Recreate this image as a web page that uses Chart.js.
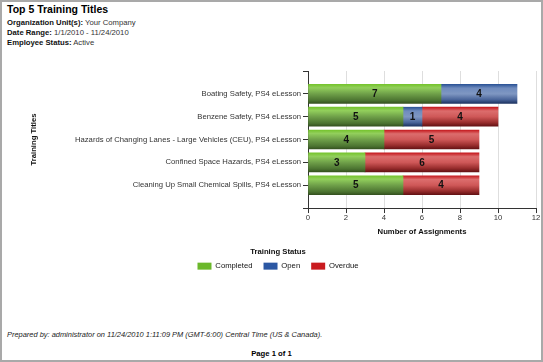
<!DOCTYPE html>
<html>
<head>
<meta charset="utf-8">
<script src="https://cdn.jsdelivr.net/npm/chart.js@4/dist/chart.umd.min.js"></script>
<style>
  html, body { margin: 0; padding: 0; background: #fff; }
  #page {
    position: relative; width: 543px; height: 362px; box-sizing: border-box;
    border: 2px solid #a9a9a9; font-family: Arial, "Liberation Sans", sans-serif; color: #000;
    overflow: hidden;
  }
  .title { position: absolute; left: 5px; top: 1px; font-size: 10.5px; font-weight: bold; }
  .meta { position: absolute; left: 5px; font-size: 7.7px; line-height: 10px; }
  .meta b { color: #111; }
  .meta span { color: #333; }
  .footer { position: absolute; left: 5px; top: 328px; font-size: 7.45px; font-style: italic; color: #222; }
  .pager { position: absolute; left: 0; width: 539px; top: 347px; text-align: center; font-size: 7.7px; font-weight: bold; }
  #chartBox { position: absolute; left: -2px; top: 60px; width: 543px; height: 218px; }
</style>
</head>
<body>
<div id="page">
  <div class="title">Top 5 Training Titles</div>
  <div class="meta" style="top:16px"><b>Organization Unit(s):</b> <span>Your Company</span></div>
  <div class="meta" style="top:26px"><b>Date Range:</b> <span>1/1/2010 - 11/24/2010</span></div>
  <div class="meta" style="top:36px"><b>Employee Status:</b> <span>Active</span></div>
  <div id="chartBox"><canvas id="chart"></canvas></div>
  <div class="footer">Prepared by: administrator on 11/24/2010 1:11:09 PM (GMT-6:00) Central Time (US &amp; Canada).</div>
  <div class="pager">Page 1 of 1</div>
</div>
<script>
  const titles = [
    'Boating Safety, PS4 eLesson',
    'Benzene Safety, PS4 eLesson',
    'Hazards of Changing Lanes - Large Vehicles (CEU), PS4 eLesson',
    'Confined Space Hazards, PS4 eLesson',
    'Cleaning Up Small Chemical Spills, PS4 eLesson'
  ];
  const completed = [7, 5, 4, 3, 5];
  const open = [4, 1, 0, 0, 0];
  const overdue = [0, 4, 5, 6, 4];
  const xTicks = [0, 2, 4, 6, 8, 10, 12];

  const FONT = 'Arial, "Liberation Sans", sans-serif';
  const BAR_H = 19;

  // empty slot above and below so the rows sit like the original
  const labels = [''].concat(titles, ['']);
  function pad(arr) {
    return [null].concat(arr.map(v => (v > 0 ? v : null)), [null]);
  }

  function barFill(stops) {
    return function (ctx) {
      const y = ctx.chart.scales.y;
      if (ctx.type !== 'data' || !y || !ctx.chart.chartArea) return stops[0][1];
      const cy = y.getPixelForValue(ctx.dataIndex);
      const g = ctx.chart.ctx.createLinearGradient(0, cy - BAR_H / 2, 0, cy + BAR_H / 2);
      stops.forEach(s => g.addColorStop(s[0], s[1]));
      return g;
    };
  }

  const greenStops = [[0, '#76c42e'], [0.18, '#92cf5c'], [0.5, '#6fa049'], [0.85, '#4b7330'], [1, '#35521f']];
  const blueStops = [[0, '#2d5497'], [0.2, '#6f8bbd'], [0.5, '#7f97c2'], [0.8, '#4a659a'], [1, '#1e3462']];
  const redStops = [[0, '#c51a1f'], [0.2, '#dc6d6d'], [0.5, '#cf5858'], [0.8, '#9a2e2e'], [1, '#651214']];

  const legendColors = ['#6bb82b', '#2b57a3', '#c91b1f'];

  const valueLabels = {
    id: 'valueLabels',
    afterDatasetsDraw(chart) {
      const c = chart.ctx;
      c.save();
      c.font = 'bold 10px ' + FONT;
      c.fillStyle = '#111';
      c.textAlign = 'center';
      c.textBaseline = 'middle';
      chart.data.datasets.forEach((ds, i) => {
        const meta = chart.getDatasetMeta(i);
        meta.data.forEach((bar, j) => {
          const v = ds.data[j];
          if (!v) return;
          const p = bar.getCenterPoint();
          c.fillText(String(v), p.x, p.y + 0.5);
        });
      });
      c.restore();
    }
  };

  Chart.defaults.font.family = FONT;
  Chart.defaults.font.size = 7.7;
  Chart.defaults.color = '#333';

  new Chart(document.getElementById('chart'), {
    type: 'bar',
    data: {
      labels: labels,
      datasets: [
        { label: 'Completed', data: pad(completed), backgroundColor: barFill(greenStops) },
        { label: 'Open', data: pad(open), backgroundColor: barFill(blueStops) },
        { label: 'Overdue', data: pad(overdue), backgroundColor: barFill(redStops) }
      ]
    },
    options: {
      indexAxis: 'y',
      responsive: true,
      maintainAspectRatio: false,
      animation: false,
      barThickness: BAR_H,
      borderWidth: 0,
      layout: { padding: { left: 20, right: 7, top: 9, bottom: 0 } },
      scales: {
        y: {
          stacked: true,
          offset: false,
          afterFit: s => { s.width = 288; },
          grid: { offset: false, drawOnChartArea: false, tickLength: 5, tickColor: '#333' },
          border: { color: '#333' },
          ticks: { padding: 2, color: '#333', autoSkip: false },
          title: {
            display: true, text: 'Training Titles', color: '#111',
            font: { weight: 'bold', size: 7.7 }, padding: { top: 9, bottom: 0 }
          }
        },
        x: {
          stacked: true,
          min: xTicks[0],
          max: xTicks[xTicks.length - 1],
          afterBuildTicks: s => { s.ticks = xTicks.map(v => ({ value: v })); },
          afterFit: s => { s.height = 32; },
          grid: { color: '#dedede', tickLength: 5, tickColor: '#333' },
          border: { color: '#333' },
          ticks: { padding: 0, color: '#333' },
          title: {
            display: true, text: 'Number of Assignments', color: '#111',
            font: { weight: 'bold', size: 7.7 }, padding: { top: 4, bottom: 3.5 }
          }
        }
      },
      plugins: {
        tooltip: { enabled: false },
        legend: {
          position: 'bottom',
          title: {
            display: true, text: 'Training Status', color: '#111',
            font: { weight: 'bold', size: 7.7 }, padding: { top: 8, bottom: -6 }
          },
          labels: {
            boxWidth: 14,
            boxHeight: 7,
            padding: 11,
            color: '#333',
            font: { size: 7.7 },
            generateLabels: chart => chart.data.datasets.map((ds, i) => ({
              text: ds.label,
              fillStyle: legendColors[i],
              strokeStyle: legendColors[i],
              lineWidth: 0,
              hidden: false,
              datasetIndex: i
            }))
          }
        }
      }
    },
    plugins: [valueLabels]
  });
</script>
</body>
</html>
